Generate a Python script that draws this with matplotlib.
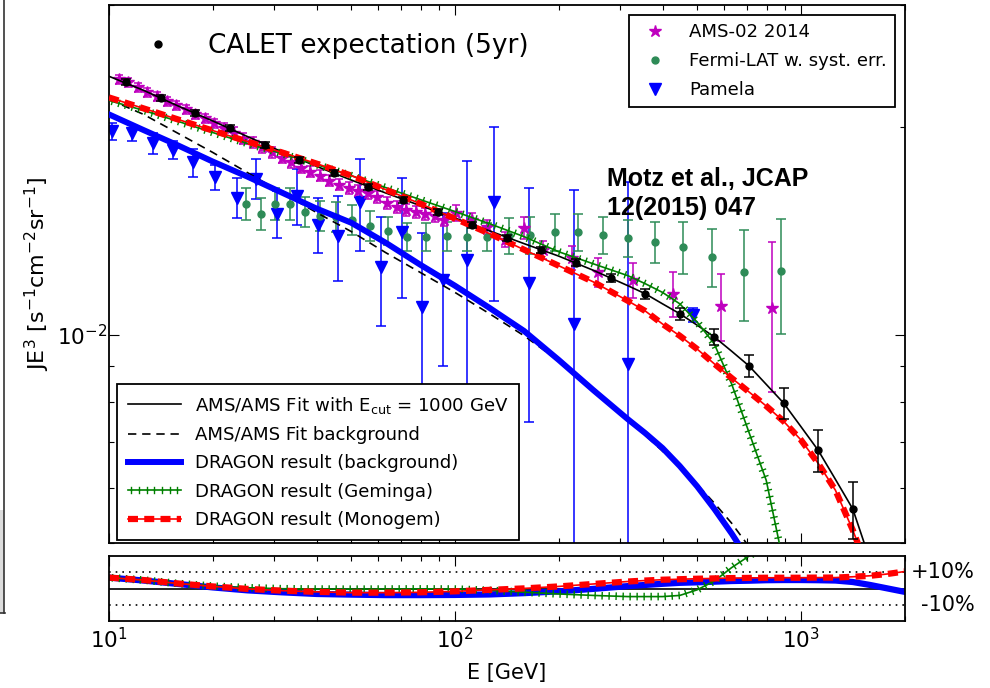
import numpy as np
import matplotlib
matplotlib.use("Agg")
import matplotlib.pyplot as plt
from matplotlib import patheffects
from matplotlib.lines import Line2D
from matplotlib.patches import Rectangle
from matplotlib.legend_handler import HandlerTuple
from matplotlib.ticker import LogLocator, NullFormatter, LogFormatterMathtext

plt.rcParams['font.family'] = ['DejaVu Sans']
plt.rcParams['axes.unicode_minus'] = False
plt.rcParams['mathtext.default'] = 'regular'

# ---------------- measured data ----------------
# AMS-02 2014 electron flux x E^3
E_ams = [10.66, 11.36, 12.11, 12.91, 13.76, 14.67, 15.64, 16.67, 17.76, 18.93,
         20.18, 21.51, 22.93, 24.44, 26.05, 27.76, 29.59, 31.54, 33.62, 35.83,
         38.19, 40.71, 43.39, 46.25, 49.30, 52.54, 56.01, 59.70, 63.63, 67.82,
         72.29, 77.05, 82.13, 87.54, 93.30, 101.0, 112.0, 124.0, 140.0, 158.0,
         180.0, 218.0, 259.0, 327.0, 426.0, 587.0, 824.0]
J_ams = [0.02342, 0.02319, 0.02280, 0.02243, 0.02213, 0.02176, 0.02147, 0.02119,
         0.02084, 0.02056, 0.02022, 0.01995, 0.01962, 0.01923, 0.01898, 0.01867,
         0.01836, 0.01805, 0.01776, 0.01746, 0.01723, 0.01700, 0.01672, 0.01650,
         0.01633, 0.01617, 0.01606, 0.01585, 0.01554, 0.01533, 0.01518, 0.01508,
         0.01498, 0.01488, 0.01468, 0.01503, 0.01468, 0.01434, 0.01373, 0.01429,
         0.01328, 0.01293, 0.01234, 0.01202, 0.01147, 0.01102, 0.01094]
relerr_ams = [0.015, 0.015, 0.015, 0.015, 0.015, 0.015, 0.015, 0.015, 0.015, 0.015,
              0.015, 0.015, 0.017, 0.017, 0.017, 0.017, 0.017, 0.017, 0.017, 0.017,
              0.017, 0.017, 0.017, 0.017, 0.020, 0.020, 0.020, 0.020, 0.020, 0.020,
              0.020, 0.020, 0.020, 0.020, 0.020, 0.027, 0.022, 0.024, 0.025, 0.037,
              0.030, 0.040, 0.048, 0.058, 0.075, 0.110, 0.245]

# Fermi-LAT with systematic errors
E_fermi = [24.89, 27.50, 30.18, 33.36, 36.86, 40.73, 45.30, 50.39, 56.80, 64.03,
           72.65, 82.47, 94.82, 108.3, 123.7, 143.2, 164.8, 194.5, 226.7, 267.7,
           316.2, 378.4, 456.0, 553.1, 684.3, 875.5]
J_fermi = [0.01548, 0.01498, 0.01548, 0.01548, 0.01508, 0.01488, 0.01483, 0.01468,
           0.01439, 0.01415, 0.01387, 0.01387, 0.01391, 0.01387, 0.01387, 0.01391,
           0.01396, 0.01410, 0.01410, 0.01396, 0.01382, 0.01364, 0.01341, 0.01298,
           0.01234, 0.01238]
relerr_fermi = [0.053, 0.052, 0.052, 0.052, 0.051, 0.051, 0.051, 0.050, 0.050, 0.048,
                0.048, 0.048, 0.048, 0.048, 0.048, 0.060, 0.062, 0.062, 0.062, 0.062,
                0.062, 0.069, 0.087, 0.095, 0.150, 0.190]

# Pamela
E_pam = [10.20, 11.66, 13.40, 15.31, 17.49, 20.25, 23.44, 26.60, 30.59, 34.94,
         40.18, 45.91, 53.15, 61.12, 70.28, 80.28, 92.34, 108.3, 129.7, 163.7,
         220.8, 316.2, 487.4]
J_pam = [0.01969, 0.01962, 0.01892, 0.01854, 0.01776, 0.01689, 0.01580, 0.01683,
         0.01498, 0.01590, 0.01444, 0.01391, 0.01559, 0.01255, 0.01410, 0.01098,
         0.01202, 0.01285, 0.01559, 0.01190, 0.01037, 0.00908, 0.01069]
relerr_pam = [0.028, 0.027, 0.036, 0.030, 0.046, 0.041, 0.066, 0.066, 0.078, 0.094,
              0.091, 0.140, 0.153, 0.179, 0.197, 0.280, 0.250, 0.390, 0.283, 0.371,
              0.564, 0.835, 0.024]

# CALET 5-year expectation
E_calet = [11.22, 14.13, 17.78, 22.39, 28.18, 35.48, 44.67, 56.23, 70.79, 89.13,
           112.2, 141.3, 177.8, 223.9, 281.8, 354.8, 446.7, 562.3, 707.9, 891.3,
           1122.0, 1413.0]
J_calet = [0.02319, 0.02198, 0.02091, 0.01989, 0.01885, 0.01793, 0.01712, 0.01639,
           0.01569, 0.01508, 0.01444, 0.01382, 0.01328, 0.01272, 0.01209, 0.01147,
           0.01073, 0.00993, 0.00902, 0.00797, 0.00681, 0.00560]
relerr_calet = [0.010, 0.010, 0.010, 0.010, 0.010, 0.010, 0.010, 0.010, 0.010, 0.010,
                0.010, 0.010, 0.010, 0.012, 0.014, 0.017, 0.020, 0.028, 0.038, 0.052,
                0.069, 0.095]

# ---------------- model curves ----------------
E_model = [10.0, 12.59, 15.85, 19.95, 25.12, 31.62, 39.81, 50.12, 63.10, 79.43,
           100.0, 125.9, 158.5, 199.5, 251.2, 316.2, 354.8, 398.1, 446.7, 501.2,
           562.3, 631.0, 707.9, 794.3, 891.3, 1000.0, 1122.0, 1259.0, 1413.0,
           1585.0, 1778.0, 1995.0]
fit_cut = [0.02366, 0.02258, 0.02143, 0.02039, 0.01936, 0.01840, 0.01753, 0.01675,
           0.01604, 0.01538, 0.01476, 0.01414, 0.01355, 0.01300, 0.01240, 0.01178,
           0.01147, 0.01109, 0.01073, 0.01033, 0.00993, 0.00947, 0.00902, 0.00848,
           0.00797, 0.00737, 0.00681, 0.00618, 0.00560, 0.00472, 0.00393]
fit_bkg = [0.02191, 0.02084, 0.01956, 0.01836, 0.01717, 0.01606, 0.01503, 0.01411,
           0.01315, 0.01231, 0.01152, 0.01073, 0.00997, 0.00917, 0.00838, 0.00755,
           0.00716, 0.00679, 0.00644, 0.00608, 0.00571, 0.00534, 0.00494, 0.00456]
dragon_bkg = [0.02084, 0.01978, 0.01879, 0.01781, 0.01694, 0.01606, 0.01523, 0.01453,
              0.01359, 0.01263, 0.01178, 0.01094, 0.01013, 0.00920, 0.00832, 0.00755,
              0.00721, 0.00686, 0.00646, 0.00604, 0.00560, 0.00516, 0.00472]
dragon_gem = [0.02183, 0.02112, 0.02036, 0.01962, 0.01892, 0.01829, 0.01763, 0.01700,
              0.01633, 0.01569, 0.01508, 0.01448, 0.01387, 0.01319, 0.01267, 0.01218,
              0.01186, 0.01152, 0.01109, 0.01044, 0.00970, 0.00849, 0.00723, 0.00616,
              0.00467, 0.00350]
dragon_mon = [0.02205, 0.02126, 0.02049, 0.01975, 0.01904, 0.01836, 0.01769, 0.01700,
              0.01622, 0.01548, 0.01473, 0.01401, 0.01328, 0.01259, 0.01193, 0.01120,
              0.01083, 0.01037, 0.00997, 0.00954, 0.00908, 0.00866, 0.00827, 0.00789,
              0.00750, 0.00705, 0.00652, 0.00596, 0.00522, 0.00449]

# relative deviations shown in the lower panel
dev_bkg = [0.068, 0.050, 0.029, 0.008, -0.010, -0.022, -0.032, -0.036, -0.039, -0.039,
           -0.038, -0.035, -0.027, -0.016, -0.001, 0.016, 0.023, 0.030, 0.036, 0.039,
           0.043, 0.047, 0.049, 0.052, 0.053, 0.053, 0.052, 0.050, 0.041, 0.023,
           0.002, -0.019]
dev_mon = [0.068, 0.053, 0.032, 0.014, -0.001, -0.012, -0.019, -0.024, -0.024, -0.022,
           -0.016, -0.007, 0.002, 0.014, 0.029, 0.044, 0.050, 0.055, 0.058, 0.061,
           0.063, 0.065, 0.066, 0.067, 0.067, 0.067, 0.068, 0.068, 0.073, 0.079,
           0.090, 0.105]
dev_gem = [0.068, 0.053, 0.032, 0.016, 0.006, 0.000, -0.002, -0.003, -0.002, -0.001,
           -0.002, -0.010, -0.021, -0.032, -0.041, -0.048, -0.048, -0.048, -0.041,
           -0.007, 0.047, 0.129, 0.199, 0.268]

C_AMS = (0.75, 0.0, 0.75)
C_FERMI = '#2e8b57'
LEG_FS = 13.1

# ---------------- figure ----------------
fig = plt.figure(figsize=(9.9, 6.88), dpi=100)
ax = fig.add_axes([0.1101, 0.2108, 0.8040, 0.7819])
ax2 = fig.add_axes([0.1101, 0.0967, 0.8040, 0.0952], sharex=ax)


def plus_effects(spacing=5.0, length=0.45, lw=1.0):
    return [patheffects.Normal(),
            patheffects.TickedStroke(spacing=spacing, angle=90, length=length, linewidth=lw),
            patheffects.TickedStroke(spacing=spacing, angle=-90, length=length, linewidth=lw)]


def arr(v):
    return np.asarray(v, dtype=float)


eb_kw = dict(ls='none', elinewidth=1.1, capthick=1.1)

h_pam = ax.errorbar(E_pam, J_pam, yerr=arr(J_pam) * arr(relerr_pam), fmt='v',
                    color='b', ms=9, capsize=3.5, zorder=2, **eb_kw)
h_fermi = ax.errorbar(E_fermi, J_fermi, yerr=arr(J_fermi) * arr(relerr_fermi), fmt='o',
                      color=C_FERMI, mec=C_FERMI, ms=5, capsize=3.5, zorder=2, **eb_kw)
h_ams = ax.errorbar(E_ams, J_ams, yerr=arr(J_ams) * arr(relerr_ams), fmt='*',
                    color=C_AMS, mec=C_AMS, ms=9, capsize=3, zorder=2, **eb_kw)

l_cut, = ax.plot(E_model[:len(fit_cut)], fit_cut, color='k', lw=1.2, zorder=3)
l_bkg, = ax.plot(E_model[:len(fit_bkg)], fit_bkg, color='k', lw=1.2,
                 ls=(0, (5, 3.5)), zorder=3)
l_dbkg, = ax.plot(E_model[:len(dragon_bkg)], dragon_bkg, color='b', lw=4.3, zorder=3)
l_gem, = ax.plot(E_model[:len(dragon_gem)], dragon_gem, color='g', lw=1.2, zorder=3,
                 path_effects=plus_effects())
l_mon1, = ax.plot(E_model[:len(dragon_mon)], dragon_mon, color='r', lw=1.2, zorder=3)
l_mon2, = ax.plot(E_model[:len(dragon_mon)], dragon_mon, color='r', lw=4.5,
                  ls=(0, (1.6, 1.0)), zorder=3)

h_calet = ax.errorbar(E_calet, J_calet, yerr=arr(J_calet) * arr(relerr_calet), fmt='o',
                      color='k', ms=5, capsize=3.5, zorder=4, **eb_kw)

ax.set_xscale('log')
ax.set_yscale('log')
ax.set_xlim(10, 2000)
ax.set_ylim(5e-3, 3e-2)
ax.yaxis.set_major_locator(LogLocator(base=10))
ax.yaxis.set_minor_locator(LogLocator(base=10, subs=np.arange(2, 10)))
ax.yaxis.set_minor_formatter(NullFormatter())
ax.yaxis.set_major_formatter(LogFormatterMathtext())
ax.set_ylabel('JE$^3$ [s$^{-1}$cm$^{-2}$sr$^{-1}$]', fontsize=16, labelpad=3)

# legends
leg_calet = ax.legend([Line2D([], [], ls='none', marker='o', color='k', ms=5)],
                      ['CALET expectation (5yr)'], loc='upper left',
                      bbox_to_anchor=(0.0284, 0.948), frameon=False, fontsize=19,
                      handlelength=2.0, handletextpad=0.89, borderpad=0,
                      borderaxespad=0, numpoints=1)
ax.add_artist(leg_calet)

leg_data = ax.legend([h_ams[0], h_fermi[0], h_pam[0]],
                     ['AMS-02 2014', 'Fermi-LAT w. syst. err.', 'Pamela'],
                     loc='upper right', fontsize=LEG_FS, numpoints=1, fancybox=False,
                     edgecolor='k', framealpha=1, borderaxespad=0.55, borderpad=0.45,
                     handlelength=2.0, handletextpad=0.85, labelspacing=0.6)
leg_data.get_frame().set_linewidth(1.3)
ax.add_artist(leg_data)

leg_model = ax.legend([l_cut, l_bkg, l_dbkg, l_gem, (l_mon1, l_mon2)],
                      ['AMS/AMS Fit with E$_{cut}$ = 1000 GeV', 'AMS/AMS Fit background',
                       'DRAGON result (background)', 'DRAGON result (Geminga)',
                       'DRAGON result (Monogem)'],
                      handler_map={tuple: HandlerTuple(ndivide=1)},
                      loc='lower left', bbox_to_anchor=(0.010, 0.0056), borderaxespad=0,
                      fontsize=LEG_FS, fancybox=False, edgecolor='k', framealpha=1,
                      borderpad=0.6, handlelength=2.9, handletextpad=0.78,
                      labelspacing=0.57)
leg_model.get_frame().set_linewidth(1.3)

ax.text(0.6256, 0.699, 'Motz et al., JCAP\n12(2015) 047', transform=ax.transAxes,
        fontsize=18, fontweight='bold', family=['Liberation Sans', 'DejaVu Sans'],
        ha='left', va='top', linespacing=1.25)

# lower panel
ax2.axhline(0.0, color='k', lw=1.2)
ax2.axhline(0.1, color='k', lw=1.2, ls=(0, (1, 3)))
ax2.axhline(-0.1, color='k', lw=1.2, ls=(0, (1, 3)))
ax2.plot(E_model[:len(dev_bkg)], dev_bkg, color='b', lw=4.5)
ax2.plot(E_model[:len(dev_gem)], dev_gem, color='g', lw=1.2, path_effects=plus_effects())
ax2.plot(E_model[:len(dev_mon)], dev_mon, color='r', lw=1.2)
ax2.plot(E_model[:len(dev_mon)], dev_mon, color='r', lw=4.5, ls=(0, (1.6, 1.0)))
ax2.set_ylim(-0.2, 0.2)
ax2.set_yticks([])
ytr = ax2.get_yaxis_transform()
ax2.text(1.0879, 0.1, '+10%', transform=ytr, ha='right', va='center', fontsize=15)
ax2.text(1.0879, -0.1, '-10%', transform=ytr, ha='right', va='center', fontsize=15)
ax2.set_xlabel('E [GeV]', fontsize=15, labelpad=8)

for a in (ax, ax2):
    a.tick_params(which='both', direction='in', top=True, right=True, width=0.8)
    a.tick_params(which='major', length=7, labelsize=15.5, pad=4)
    a.tick_params(which='minor', length=3.5)
    for s in a.spines.values():
        s.set_linewidth(1.3)
ax.tick_params(labelbottom=False)
ax.tick_params(axis='y', which='major', pad=1.5)
ax2.tick_params(axis='y', which='both', left=False, right=False)

# edge of the neighbouring panel on the left
fig.add_artist(Rectangle((0, 1 - 613 / 688), 3.5 / 990, 103 / 688,
                         transform=fig.transFigure, color='#dcdcdc', lw=0))
fig.add_artist(Line2D([3.5 / 990, 3.5 / 990], [1 - 613 / 688, 1], transform=fig.transFigure,
                      color='#333333', lw=1.2))
fig.add_artist(Line2D([0, 4.5 / 990], [1 - 613 / 688, 1 - 613 / 688],
                      transform=fig.transFigure, color='#333333', lw=1.2))

fig.savefig('out.png', dpi=100)
